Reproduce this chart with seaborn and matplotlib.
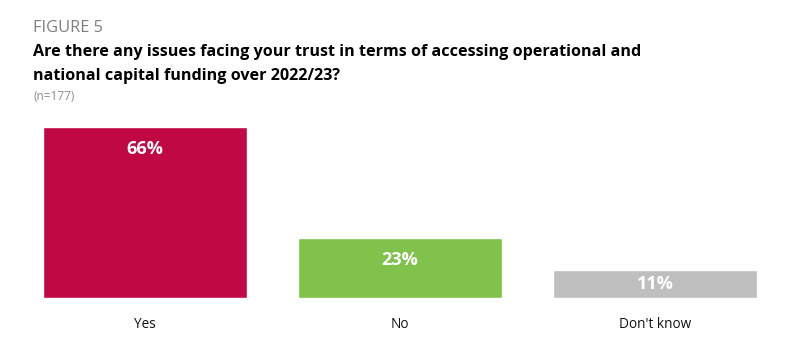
import matplotlib
matplotlib.use("Agg")
import matplotlib.pyplot as plt
import seaborn as sns
import pandas as pd

categories = ["Yes", "No", "Don't know"]
values = [66, 23, 11]
colors = ["#C00845", "#80C24B", "#BFBFBF"]

sns.set_theme(style="white")
plt.rcParams["font.family"] = ["Open Sans", "DejaVu Sans"]

df = pd.DataFrame({"cat": categories, "val": values})

fig = plt.figure(figsize=(8.02, 3.38), dpi=100)
ax = fig.add_axes([17.5 / 802, 40 / 338, 765 / 802, 171 / 338])
sns.barplot(data=df, x="cat", y="val", hue="cat", palette=colors, legend=False,
            width=0.8, saturation=1, ax=ax)
ax.set_xlim(-0.5, 2.5)
ax.set_ylim(0, 66)
for s in ax.spines.values():
    s.set_visible(False)
ax.set_yticks([])
ax.set_xlabel("")
ax.set_ylabel("")
ax.tick_params(axis="x", length=0, pad=14, labelsize=9.8, labelcolor="#111111")

px_per_unit = 171 / 66
for i, v in enumerate(values):
    y = max(v - 21.5 / px_per_unit, v / 2)
    ax.text(i, y, f"{v}%", ha="center", va="center", color="white",
            fontsize=13, fontweight="bold")

fig.text(33 / 802, 1 - 28 / 338, "FIGURE 5", ha="left", va="center",
         fontsize=11.8, color="#7F7F7F")
fig.text(33 / 802, 1 - 52 / 338,
         "Are there any issues facing your trust in terms of accessing operational and",
         ha="left", va="center", fontsize=11.65, fontweight="bold", color="#000000")
fig.text(33 / 802, 1 - 76 / 338, "national capital funding over 2022/23?",
         ha="left", va="center", fontsize=11.65, fontweight="bold", color="#000000")
fig.text(33 / 802, 1 - 96 / 338, "(n=177)", ha="left", va="center",
         fontsize=8.5, color="#8C8C8C")

fig.savefig("out.png", dpi=100)
